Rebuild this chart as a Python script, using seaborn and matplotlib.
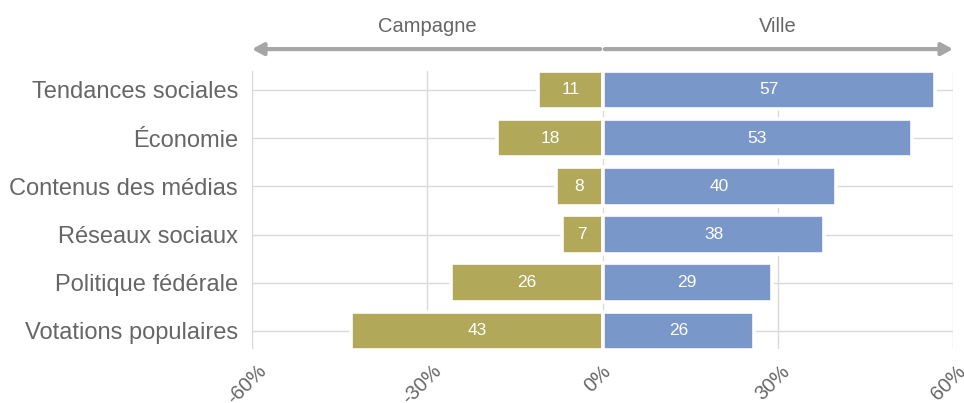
import matplotlib
matplotlib.use("Agg")
import matplotlib.pyplot as plt
from matplotlib.transforms import ScaledTranslation
import pandas as pd
import seaborn as sns

# Sources d'influence selon le lieu de résidence (%)
categories = [
    "Tendances sociales",
    "Économie",
    "Contenus des médias",
    "Réseaux sociaux",
    "Politique fédérale",
    "Votations populaires",
]
campagne = [11, 18, 8, 7, 26, 43]
ville = [57, 53, 40, 38, 29, 26]

tick_values = [-60, -30, 0, 30, 60]
tick_labels = ["-60%", "-30%", "0%", "30%", "60%"]
side_labels = ["Campagne", "Ville"]

OLIVE = "#b2a85a"
BLUE = "#7a97c9"
GRID = "#d9d9d9"
TEXT = "#666666"
ARROW = "#a6a6a6"

sns.set_theme(style="white")
plt.rcParams["font.family"] = ["Liberation Sans", "DejaVu Sans"]

df = pd.DataFrame({"categorie": categories,
                   "campagne": [-v for v in campagne],
                   "ville": ville})

fig = plt.figure(figsize=(9.64, 4.03), dpi=100)
ax = fig.add_axes([252 / 964, 54 / 403, 701 / 964, 278.4 / 403])

# grid lines behind the bars
for i in range(len(categories)):
    ax.axhline(i, color=GRID, lw=1.0, zorder=0)
for t in tick_values:
    ax.axvline(t, color=GRID, lw=1.0, zorder=0)

sns.barplot(data=df, x="campagne", y="categorie", orient="h", color=OLIVE,
            saturation=1, width=0.8, edgecolor="white", linewidth=2.6,
            ax=ax, zorder=2)
sns.barplot(data=df, x="ville", y="categorie", orient="h", color=BLUE,
            saturation=1, width=0.8, edgecolor="white", linewidth=2.6,
            ax=ax, zorder=2)

ax.bar_label(ax.containers[0], labels=[str(v) for v in campagne],
             label_type="center", color="white", fontsize=12.5)
ax.bar_label(ax.containers[1], labels=[str(v) for v in ville],
             label_type="center", color="white", fontsize=12.5)

ax.set_xlim(-60, 60)
ax.set_ylim(5.375, -0.4)
ax.set_xlabel("")
ax.set_ylabel("")
sns.despine(ax=ax, left=True, bottom=True)

ax.set_xticks(tick_values)
ax.set_xticklabels(tick_labels, rotation=45, fontsize=14.5, color=TEXT)
ax.tick_params(axis="x", length=0, pad=9)
ax.tick_params(axis="y", length=0, pad=10, labelsize=17, labelcolor=TEXT)
shift = ScaledTranslation(-5 / 100, 0, fig.dpi_scale_trans)
for lab in ax.get_xticklabels():
    lab.set_transform(lab.get_transform() + shift)

# direction arrows and side headers above the plot
trans = ax.get_xaxis_transform()
y_arrow = 1 + 21.5 / 278.4
y_head = 1 + 44 / 278.4
arrowprops = dict(arrowstyle="-|>,head_length=0.55,head_width=0.3",
                  color=ARROW, lw=3, shrinkA=0, shrinkB=0)
ax.annotate("", xy=(-60, y_arrow), xytext=(-0.4, y_arrow), xycoords=trans,
            textcoords=trans, arrowprops=arrowprops, annotation_clip=False)
ax.annotate("", xy=(60, y_arrow), xytext=(0.4, y_arrow), xycoords=trans,
            textcoords=trans, arrowprops=arrowprops, annotation_clip=False)
ax.text(-30, y_head, side_labels[0], transform=trans, ha="center", va="center",
        fontsize=14.5, color=TEXT)
ax.text(30, y_head, side_labels[1], transform=trans, ha="center", va="center",
        fontsize=14.5, color=TEXT)

fig.savefig("out.png", dpi=100)
